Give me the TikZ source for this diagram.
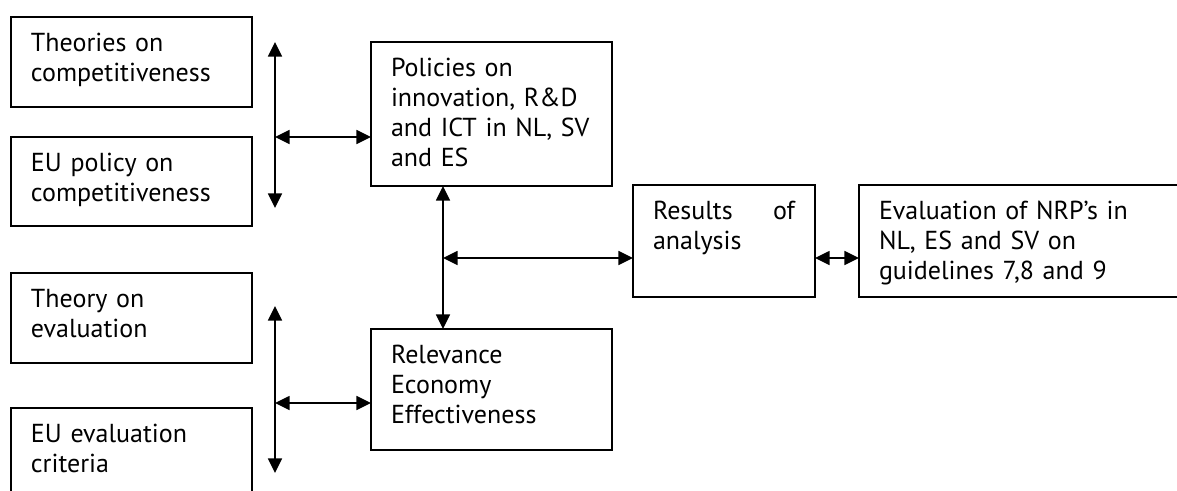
\documentclass[tikz,border=0pt]{standalone}
\usepackage{fontspec}
\setmainfont{PT Sans}
\usetikzlibrary{arrows.meta,calc}

\begin{document}
\begin{tikzpicture}[
    x=0.75pt,
    y=-0.75pt,
    >={Triangle[length=11pt,width=10.5pt]},
    arrow/.style={
        <->,
        line width=1.2pt,
        black,
    },
    block/.style={
        rectangle,
        draw=black,
        line width=0.9pt,
        anchor=north west,
        inner xsep=15pt,
        inner ysep=0pt,
        outer sep=0pt,
        align=left,
        text width=150.75pt,
        text height=25.5pt,
        font=\fontsize{19.5}{22.5}\selectfont,
    },
]

    \useasboundingbox (0,0) rectangle (1177,490);
    \clip (0,0) rectangle (1177,490);

    % === Competitiveness ===
    \node[block, text depth=42pt] (thcomp) at (11,17) {Theories on\\competitiveness};
    \node[block, text depth=41.25pt] (eucomp) at (11,137) {EU policy on\\competitiveness};
    \node[block, text depth=82.5pt] (policies) at (371,42) {Policies on\\innovation, R\&D\\and ICT in NL, SV\\and ES};

    % === Evaluation ===
    \node[block, text depth=42pt] (theval) at (11,273) {Theory on\\evaluation};
    \node[block, text depth=57pt] (eucrit) at (11,408) {EU evaluation\\criteria};
    \node[block, text depth=65.25pt] (rele) at (371,329) {Relevance\\Economy\\Effectiveness};

    % === Results ===
    \node[block, text depth=58.5pt, text width=106.5pt] (results) at (633,185) {Results \hfill of\\analysis};
    \node[block, text depth=58.5pt, text width=222pt] (nrp) at (859,185) {Evaluation of NRP’s in\\NL, ES and SV on\\guidelines 7,8 and 9};

    % Junctions
    \coordinate (top1) at (275,42);
    \coordinate (bot1) at (275,208);
    \coordinate (mid1) at (275,137);
    \coordinate (top2) at (275,306);
    \coordinate (bot2) at (275,473);
    \coordinate (mid2) at (275,403);
    \coordinate (mid3) at (443,258);

    % Arrows
    \draw[arrow] (top1) -- (bot1);
    \draw[arrow] (mid1) -- (mid1 -| policies.west);
    \draw[arrow] (top2) -- (bot2);
    \draw[arrow] (mid2) -- (mid2 -| rele.west);
    \draw[arrow] (mid3 |- policies.south) -- (mid3 |- rele.north);
    \draw[arrow] (mid3) -- (mid3 -| results.west);
    \draw[arrow] (mid3 -| results.east) -- (mid3 -| nrp.west);

\end{tikzpicture}
\end{document}
